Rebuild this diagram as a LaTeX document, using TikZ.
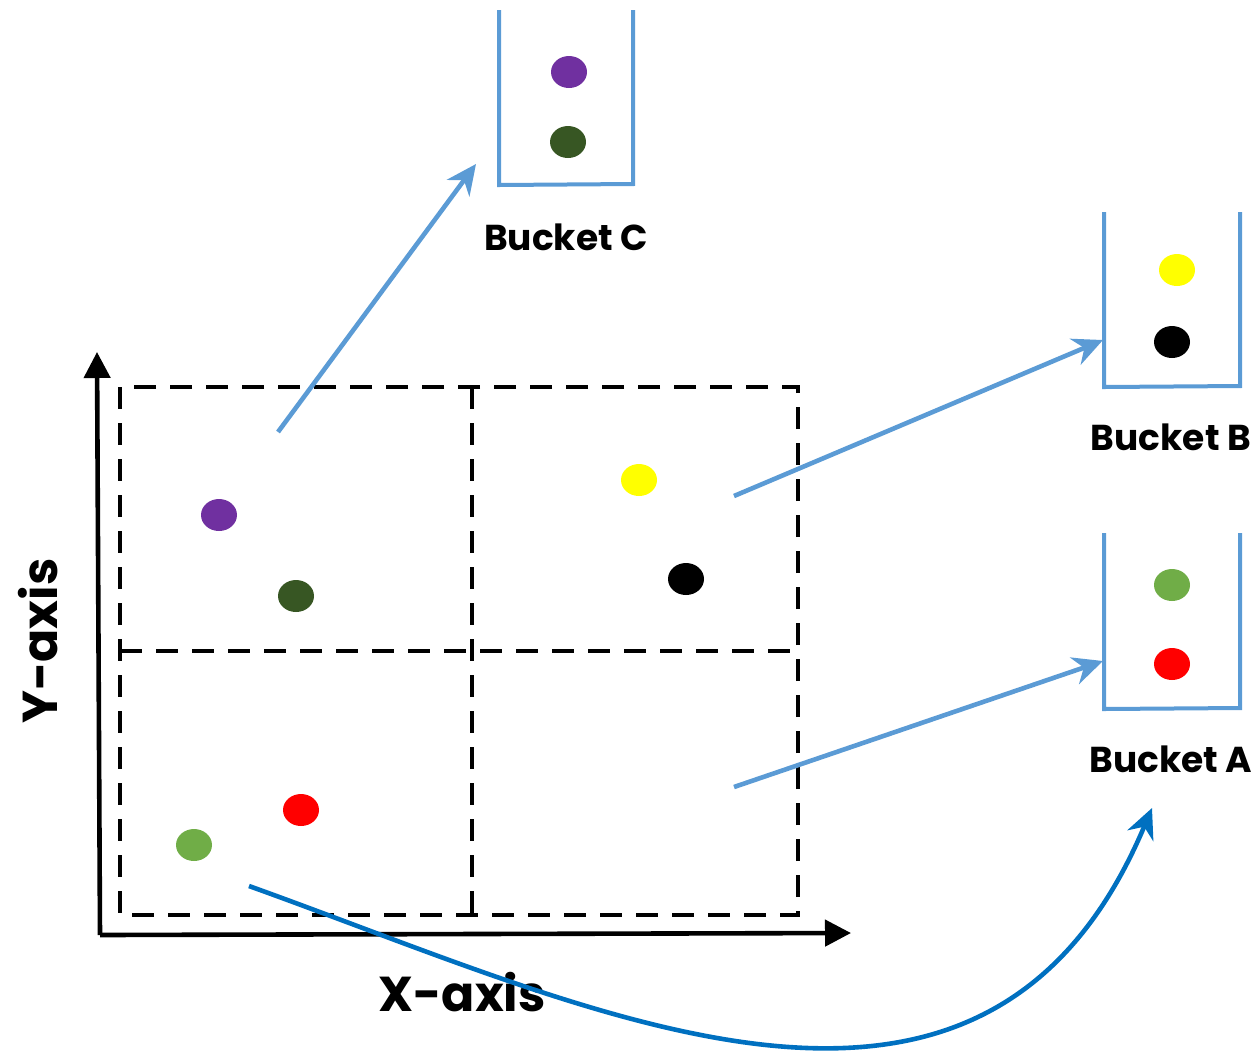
\documentclass[tikz,border=0pt]{standalone}
\usepackage{fontspec}
\setmainfont{Poppins}
\usepackage{tikz}
\usetikzlibrary{arrows.meta,shapes.geometric,positioning}

\definecolor{bpurple}{HTML}{7030A0}
\definecolor{bdkgreen}{HTML}{375623}
\definecolor{bgreen}{HTML}{70AD47}
\definecolor{bred}{HTML}{FF0000}
\definecolor{byellow}{HTML}{FFFF00}
\definecolor{lineblue}{HTML}{5B9BD5}
\definecolor{curveblue}{HTML}{0070C0}

\tikzset{
  ball/.style={ellipse, minimum width=18pt, minimum height=16pt, inner sep=0pt},
  bucket/.style={draw=lineblue, line width=2pt},
  grid line/.style={dashed, dash pattern=on 11pt off 7pt, line width=2.2pt},
  axis/.style={-{Triangle[length=13pt,width=13pt]}, line width=2.3pt},
  feed/.style={-{Stealth[length=15pt,width=14pt]}, draw=lineblue, line width=2.3pt},
  blabel/.style={font=\fontsize{18}{21}\selectfont\bfseries},
  axlabel/.style={font=\fontsize{24.5}{28}\selectfont\bfseries},
}

\begin{document}
\begin{tikzpicture}[x=0.5pt,y=-0.5pt]
\useasboundingbox (0,0) rectangle (1258,1051);

% Axes
\coordinate (origin) at (100,935);
\draw[axis] (origin) -- (97,352);
\draw[axis] (origin) -- (851,933);
\node[axlabel, rotate=90] (ylab) at (38,641) {Y-axis};
\node[axlabel] (xlab) at (462,992) {X-axis};

% Dashed grid
\draw[grid line] (120,387) rectangle (798,915);
\draw[grid line] (472,387) -- (472,915);
\draw[grid line] (120,651) -- (798,651);

% Points
\node[ball, fill=bpurple]  (pa) at (219,515) {};
\node[ball, fill=bdkgreen] (pb) at (296,596) {};
\node[ball, fill=byellow]  (pc) at (639,480) {};
\node[ball, fill=black]    (pd) at (686,579) {};
\node[ball, fill=bred]     (pe) at (301,810) {};
\node[ball, fill=bgreen]   (pf) at (194,845) {};

% Buckets
\draw[bucket] (499,10) -- (499,185) -- (633,184) -- (633,10);
\node[ball, fill=bpurple]  (ca) at (569,72) {};
\node[ball, fill=bdkgreen] (cb) at (568,142) {};
\node[blabel] (bktc) at (566,237) {Bucket C};

\draw[bucket] (1104,212) -- (1104,387) -- (1240,386) -- (1240,212);
\node[ball, fill=byellow] (ba) at (1177,270) {};
\node[ball, fill=black]   (bb) at (1172,342) {};
\node[blabel] (bktb) at (1171,437) {Bucket B};

\draw[bucket] (1104,533) -- (1104,709) -- (1240,708) -- (1240,533);
\node[ball, fill=bgreen] (aa) at (1172,585) {};
\node[ball, fill=bred]   (ab) at (1172,664) {};
\node[blabel] (bkta) at (1171,759) {Bucket A};

% Connectors
\coordinate (fromc) at (278,432);
\coordinate (toc) at (476,164);
\coordinate (fromb) at (734,496);
\coordinate (tob) at (1103,340);
\coordinate (froma) at (734,787);
\coordinate (toa) at (1103,661);
\coordinate (fromf) at (249,886);
\coordinate (tof) at (1152,808);
\draw[feed] (fromc) -- (toc);
\draw[feed] (fromb) -- (tob);
\draw[feed] (froma) -- (toa);
\draw[feed, draw=curveblue] (fromf) .. controls (600,1012) and (985,1205) .. (tof);
\end{tikzpicture}
\end{document}
